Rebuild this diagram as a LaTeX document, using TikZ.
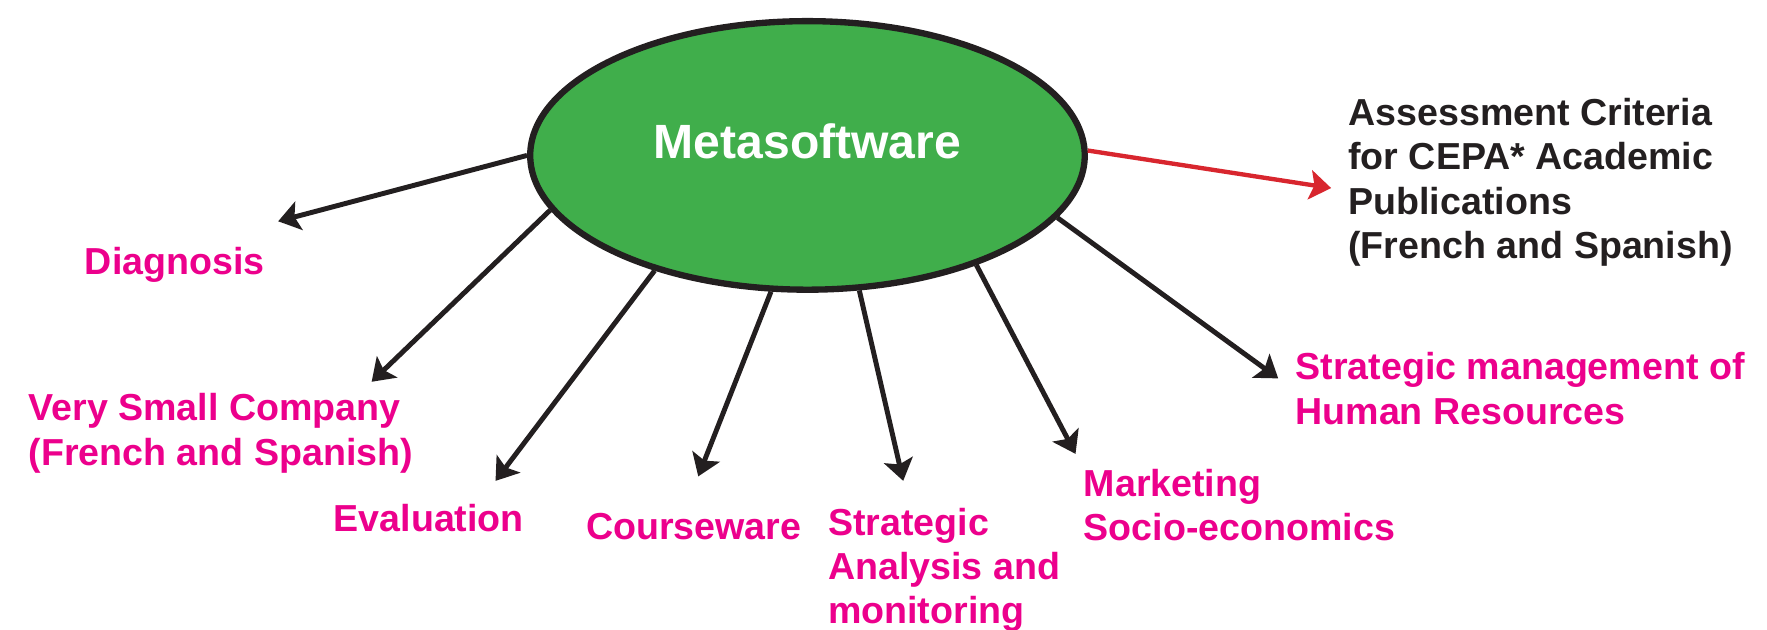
\documentclass[tikz,border=0pt]{standalone}
\usepackage{fontspec}
\setmainfont{Liberation Sans}
\usetikzlibrary{arrows.meta,shapes.geometric}
\definecolor{pinkt}{HTML}{EC008C}
\definecolor{greenf}{HTML}{40AE4B}
\definecolor{redl}{HTML}{D8262E}
\definecolor{blackt}{HTML}{231F20}
\tikzset{
  lbl/.style={text=pinkt, font=\fontsize{19}{22.4}\selectfont\bfseries, align=left, inner sep=0pt, anchor=base west},
  blk/.style={text=blackt, font=\fontsize{19}{22.4}\selectfont\bfseries, align=left, inner sep=0pt, anchor=base west},
  arr/.style={draw=blackt, line width=2.5pt, -{Stealth[length=0.38cm,width=0.52cm,inset=0.08cm]}},
  rarr/.style={draw=redl, line width=2.2pt, -{Stealth[length=0.38cm,width=0.52cm,inset=0.08cm]}},
  hub/.style={ellipse, draw=blackt, fill=greenf, line width=3.2pt, minimum width=9.85cm, minimum height=4.77cm, inner sep=0pt,
    text=white, font=\fontsize{24.3}{28}\selectfont\bfseries, text height=17.5pt, text depth=14pt}
}
\begin{document}
\begin{tikzpicture}[x=0.02cm,y=-0.02cm]
\useasboundingbox (0,0) rectangle (1569,559.4);
\node[hub] (m) at (717,138) {Metasoftware};

\node[lbl] (dg) at (75,244) {Diagnosis};
\node[lbl] (vsc) at (25,413) {Very Small Company\\(French and Spanish)};
\node[lbl] (ev) at (296,471.5) {Evaluation};
\node[lbl] (cw) at (520,479) {Courseware};
\node[lbl] (sa) at (735,554) {Strategic\\Analysis and\\monitoring};
\node[lbl] (mk) at (962,480) {Marketing\\Socio-economics};
\node[lbl] (sm) at (1150,376.5) {Strategic management of\\Human Resources};
\node[blk] (ac) at (1197,229.5) {Assessment Criteria\\for CEPA* Academic\\Publications\\(French and Spanish)};

\coordinate (tdg) at (247,196.5);
\coordinate (tvsc) at (330,339);
\coordinate (tev) at (440,427);
\coordinate (tcw) at (620,423);
\coordinate (tsa) at (802,427);
\coordinate (tmk) at (955,403);
\coordinate (tsm) at (1135,336);
\coordinate (tac) at (1182,167);

\draw[arr] (m.180) -- (tdg);
\draw[arr] (m.192.5) -- (tvsc);
\draw[arr] (m.217.7) -- (tev);
\draw[arr] (m.255.8) -- (tcw);
\draw[arr] (m.291.2) -- (tsa);
\draw[arr] (m.327.5) -- (tmk);
\draw[arr] (m.346.7) -- (tsm);
\draw[rarr] (m.1.6) -- (tac);
\end{tikzpicture}
\end{document}
